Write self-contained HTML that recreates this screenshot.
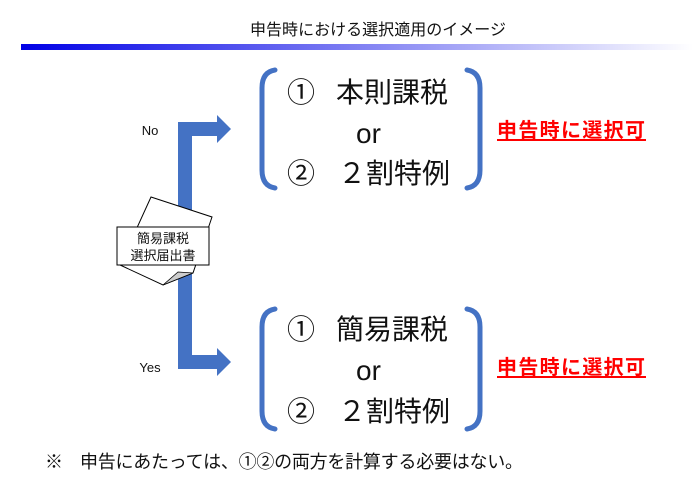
<!DOCTYPE html>
<html><head><meta charset="utf-8"><style>
html,body{margin:0;padding:0;background:#fff;}
svg{display:block;}
text{font-family:"Liberation Sans","Noto Sans CJK JP",sans-serif;}
</style></head><body>
<svg width="693" height="493" viewBox="0 0 693 493" xmlns="http://www.w3.org/2000/svg">
<defs><linearGradient id="g" x1="0" x2="1" y1="0" y2="0"><stop offset="0" stop-color="#0000e6"/><stop offset="1" stop-color="#ffffff"/></linearGradient></defs>
<text x="250" y="35" font-size="16" textLength="256" fill="#111">申告時における選択適用のイメージ</text>
<rect x="21" y="44" width="672" height="6" fill="url(#g)"/>
<path d="M178,122 H217 V115 L231,129 L217,143 V136 H192 V355 H217 V348 L231,362 L217,376 V369 H178 Z" fill="#4472c4"/>
<text x="150" y="135" font-size="13" text-anchor="middle" fill="#111">No</text>
<text x="150" y="372" font-size="13" text-anchor="middle" fill="#111">Yes</text>
<path d="M151,197 L212,217 L193,273 L163,285 L120,265 Z" fill="#fff" stroke="#000" stroke-width="1"/>
<path d="M163,285 L178,272 L193,273 Z" fill="#ccc" stroke="#000" stroke-width="0.8"/>
<rect x="117" y="227" width="92" height="38" fill="#fff" stroke="#000" stroke-width="1"/>
<text x="163" y="243" font-size="13" text-anchor="middle" fill="#111">簡易課税</text>
<text x="163" y="260" font-size="13" text-anchor="middle" fill="#111">選択届出書</text>
<g fill="none" stroke="#4472c4" stroke-width="5" stroke-linecap="round">
<path d="M275,70 Q262,72 262,88 V170 Q262,186 275,188"/>
<path d="M467,70 Q480,72 480,88 V170 Q480,186 467,188"/>
<path d="M275,309 Q262,311 262,327 V411 Q262,427 275,429"/>
<path d="M467,309 Q480,311 480,327 V411 Q480,427 467,429"/>
</g>
<g font-size="28" fill="#111">
<text x="287" y="102">①</text><text x="336" y="102">本則課税</text>
<text x="356" y="143">or</text>
<text x="287" y="183">②</text><text x="338" y="183">２割特例</text>
<text x="287" y="339">①</text><text x="336" y="339">簡易課税</text>
<text x="356" y="380">or</text>
<text x="287" y="421">②</text><text x="338" y="421">２割特例</text>
</g>
<g font-size="20" font-weight="bold" fill="#ff0000">
<text x="497" y="137" textLength="148">申告時に選択可</text>
<text x="497" y="374" textLength="148">申告時に選択可</text>
</g>
<rect x="497" y="139" width="149" height="2" fill="#ff0000"/>
<rect x="497" y="376" width="149" height="2" fill="#ff0000"/>
<text x="45" y="468" font-size="18" fill="#111">※</text>
<text x="80" y="468" font-size="18" textLength="443" fill="#111">申告にあたっては、①②の両方を計算する必要はない。</text>
</svg>
</body></html>
